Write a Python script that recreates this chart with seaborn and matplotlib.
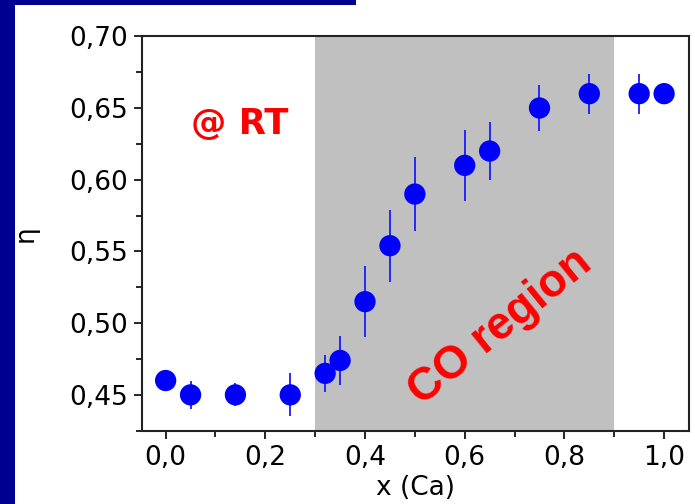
import matplotlib
matplotlib.use("Agg")
import matplotlib.pyplot as plt
import matplotlib.ticker as mticker
from matplotlib.patches import Rectangle
import seaborn as sns
import pandas as pd

# data
x_ca = [0.0, 0.05, 0.14, 0.25, 0.32, 0.35, 0.40, 0.45, 0.50, 0.60, 0.65, 0.75, 0.85, 0.95, 1.00]
eta = [0.460, 0.450, 0.450, 0.450, 0.465, 0.474, 0.515, 0.554, 0.590, 0.610, 0.620, 0.650, 0.660, 0.660, 0.660]
eta_err = [0.007, 0.010, 0.008, 0.015, 0.013, 0.017, 0.025, 0.025, 0.026, 0.025, 0.020, 0.016, 0.014, 0.014, 0.0]
co_region = [0.3, 0.9]
xticks = [0.0, 0.2, 0.4, 0.6, 0.8, 1.0]
yticks = [0.45, 0.50, 0.55, 0.60, 0.65, 0.70]

df = pd.DataFrame({"x": x_ca, "eta": eta, "err": eta_err})

sns.set_theme(style="ticks")
plt.rcParams["font.family"] = ["DejaVu Sans"]
plt.rcParams["text.color"] = "black"
plt.rcParams["axes.labelcolor"] = "black"
plt.rcParams["xtick.color"] = "black"
plt.rcParams["ytick.color"] = "black"

fig = plt.figure(figsize=(6.95, 5.04), dpi=100)
fig.patch.set_facecolor("white")
ax = fig.add_axes([0.2039, 0.1454, 0.9914 - 0.2039, 0.928 - 0.1454])

# navy slide border
fig.patches.append(Rectangle((0, 0), 15 / 695, 1, transform=fig.transFigure,
                             facecolor="#000090", edgecolor="none", zorder=0))
fig.patches.append(Rectangle((0, 1 - 5 / 504), 356 / 695, 5 / 504, transform=fig.transFigure,
                             facecolor="#000090", edgecolor="none", zorder=0))

ax.axvspan(co_region[0], co_region[1], color="#c0c0c0", zorder=0, lw=0)

ax.errorbar(df["x"], df["eta"], yerr=df["err"], fmt="none", ecolor="#1a1aff",
            elinewidth=1.3, capsize=0, zorder=2)
sns.scatterplot(data=df, x="x", y="eta", ax=ax, color="#0000ff", s=235,
                edgecolor="none", linewidth=0, zorder=3, legend=False)

ax.set_xlim(-0.048, 1.05)
ax.set_ylim(0.425, 0.70)
ax.set_xticks(xticks)
ax.set_yticks(yticks)
ax.xaxis.set_minor_locator(mticker.MultipleLocator(0.1))
ax.yaxis.set_minor_locator(mticker.MultipleLocator(0.025))
ax.set_xticklabels([f"{v:.1f}".replace(".", ",") for v in xticks])
ax.set_yticklabels([f"{v:.2f}".replace(".", ",") for v in yticks])

ax.tick_params(which="major", direction="out", length=6, width=1.2, labelsize=19,
               color="black", labelcolor="black", pad=4)
ax.tick_params(which="minor", direction="out", length=4, width=1.2, color="black")
for s in ax.spines.values():
    s.set_visible(True)
    s.set_linewidth(1.5)
    s.set_color("#222222")

ax.set_xlabel("x (Ca)", fontsize=19, labelpad=3, color="black")
ax.set_ylabel("η", fontsize=19, labelpad=22, color="black")

ax.text(0.149, 0.6385, "@ RT", color="#ff0000", fontsize=25.5, fontweight="bold",
        family=["DejaVu Sans"], ha="center", va="center")
ax.text(0.6705, 0.4974, "CO region", color="#ff0000", fontsize=33, fontweight="bold",
        family=["Liberation Sans", "DejaVu Sans"], ha="center", va="center", rotation=39)

fig.savefig("out.png", dpi=100, facecolor="white")
